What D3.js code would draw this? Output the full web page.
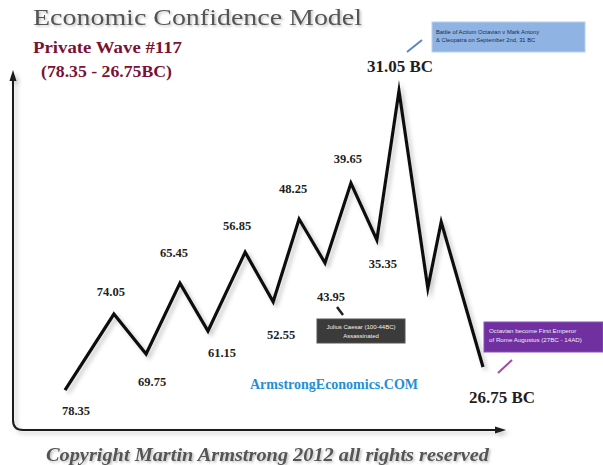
<!DOCTYPE html>
<html><head><meta charset="utf-8">
<script src="https://cdn.jsdelivr.net/npm/d3@7"></script>
<style>html,body{margin:0;padding:0;background:#fff;}svg{display:block;}</style>
</head><body>
<svg id="chart" width="603" height="465"></svg>
<script>
// ---- data ----
const timePos = [0, 11.7, 19.4, 27.5, 34.2, 43.1, 49.8, 56.0, 62.2, 68.4, 74.6, 79.9, 86.8, 90.0, 100];
const confidence = [11.1, 32.2, 21.1, 40.8, 27.5, 49.4, 35.6, 58.6, 46.4, 68.6, 52.8, 94.2, 39.4, 57.8, 17.5];
const pointLabels = ["78.35","74.05","69.75","65.45","61.15","56.85","52.55","48.25","43.95","39.65","35.35","31.05 BC","","","26.75 BC"];
const titleText = "Economic Confidence Model";
const subTitle1 = "Private Wave #117";
const subTitle2 = "(78.35 - 26.75BC)";
const siteText = "ArmstrongEconomics.COM";
const copyrightText = "Copyright Martin Armstrong 2012 all rights reserved";
const noteBattle = ["Battle of Actium Octavian v Mark Antony", "& Cleopatra on September 2nd, 31 BC"];
const noteCaesar = ["Julius Caesar (100-44BC)", "Assassinated"];
const noteOctavian = ["Octavian become First Emperor", "of Rome Augustus (27BC - 14AD)"];

// ---- layout ----
const labelOffsets = [[11,21],[-3,-22],[6,28],[-6,-30],[14,22],[-8,-26],[8,33],[-6,-30],[6,34],[-3,-24],[6,24],[1,-24],[0,0],[0,0],[19,30]];

const svg = d3.select("#chart");
const x = d3.scaleLinear().domain([0, 100]).range([65, 483]);
const y = d3.scaleLinear().domain([0, 100]).range([430, 70]);

const defs = svg.append("defs");
const sh = defs.append("filter").attr("id","sh").attr("x","-10%").attr("y","-10%").attr("width","130%").attr("height","130%");
sh.append("feDropShadow").attr("dx",3).attr("dy",3).attr("stdDeviation",2.2).attr("flood-color","#000").attr("flood-opacity",0.22);
const tsh = defs.append("filter").attr("id","tsh");
tsh.append("feDropShadow").attr("dx",1.5).attr("dy",1.5).attr("stdDeviation",1).attr("flood-color","#000").attr("flood-opacity",0.25);

// axes frame (drawn from scale extents)
const x0 = 13, yTop = 70, yBase = y(0), xEnd = 506, r = 10;
const axisG = svg.append("g").attr("filter","url(#sh)");
axisG.append("path")
  .attr("d", `M${x0},${yTop+8} L${x0},${yBase-r} Q${x0},${yBase} ${x0+r},${yBase} L${xEnd-8},${yBase}`)
  .attr("fill","none").attr("stroke","#1a1a1a").attr("stroke-width",2);
axisG.append("path").attr("d",`M${x0},${yTop} L${x0-3.5},${yTop+11} L${x0+3.5},${yTop+11} Z`).attr("fill","#1a1a1a");
axisG.append("path").attr("d",`M${xEnd},${yBase} L${xEnd-11},${yBase-3.5} L${xEnd-11},${yBase+3.5} Z`).attr("fill","#1a1a1a");

// the wave
const pts = timePos.map((t,i)=>({t, v: confidence[i], label: pointLabels[i], off: labelOffsets[i]}));
const line = d3.line().x(d=>x(d.t)).y(d=>y(d.v));
svg.append("path").datum(pts).attr("d", line)
  .attr("fill","none").attr("stroke","#111").attr("stroke-width",3.2)
  .attr("stroke-linejoin","miter").attr("stroke-miterlimit",10).attr("filter","url(#sh)");

// point labels
svg.append("g").selectAll("text").data(pts.filter(d=>d.label)).join("text")
  .attr("x", d=>x(d.t)+d.off[0]).attr("y", d=>y(d.v)+d.off[1])
  .attr("text-anchor","middle").attr("dominant-baseline","central")
  .attr("font-family","Liberation Serif, DejaVu Serif, serif")
  .attr("font-weight","bold")
  .attr("font-size", d=>d.label.includes("BC") ? 17 : 12.5)
  .attr("fill","#1e1e1e")
  .text(d=>d.label);

// titles
svg.append("text").attr("x",33).attr("y",25).attr("font-family","Liberation Serif, serif")
  .attr("font-size",24).attr("fill","#555").attr("textLength",329).attr("lengthAdjust","spacingAndGlyphs")
  .attr("filter","url(#tsh)").text(titleText);
svg.append("text").attr("x",33).attr("y",53).attr("font-family","Liberation Serif, serif")
  .attr("font-size",16).attr("font-weight","bold").attr("fill","#7a1233").attr("textLength",149).attr("lengthAdjust","spacingAndGlyphs")
  .text(subTitle1);
svg.append("text").attr("x",41).attr("y",77).attr("font-family","Liberation Serif, serif")
  .attr("font-size",16).attr("font-weight","bold").attr("fill","#7a1233").attr("textLength",131).attr("lengthAdjust","spacingAndGlyphs")
  .text(subTitle2);

// site text
svg.append("text").attr("x",250).attr("y",389).attr("font-family","Liberation Serif, serif")
  .attr("font-size",14).attr("font-weight","bold").attr("fill","#1f8fd6").attr("textLength",168).attr("lengthAdjust","spacingAndGlyphs")
  .text(siteText);

// copyright
svg.append("text").attr("x",46).attr("y",461).attr("font-family","Liberation Serif, serif")
  .attr("font-size",18).attr("font-weight","bold").attr("font-style","italic").attr("fill","#555")
  .attr("textLength",443).attr("lengthAdjust","spacingAndGlyphs").attr("filter","url(#tsh)")
  .text(copyrightText);

// annotation boxes
function note(bx, by, bw, bh, fill, stroke, color, lines, anchor, tx, ty0, dy, fs){
  const g = svg.append("g");
  g.append("rect").attr("x",bx).attr("y",by).attr("width",bw).attr("height",bh).attr("fill",fill)
    .attr("stroke",stroke).attr("stroke-width",1);
  g.selectAll("text").data(lines).join("text")
    .attr("x",tx).attr("y",(d,i)=>ty0+i*dy).attr("text-anchor",anchor)
    .attr("font-family","Liberation Sans, Arial, sans-serif").attr("font-size",fs).attr("fill",color)
    .text(d=>d);
}
note(432,22,153,30,"#8fb4e3","#b9d0ee","#1a2a4a",noteBattle,"start",436,34,8,5.8);
note(317,319,88,24,"#3b3b3b","#555","#f2f2f2",noteCaesar,"middle",361,329,9,6);
note(484,322,119,30,"#7030a0","#8a50b8","#f3eafa",noteOctavian,"start",489,333,9,6.2);

// pointer ticks
svg.append("line").attr("x1",407).attr("y1",52).attr("x2",422).attr("y2",40).attr("stroke","#5b86c0").attr("stroke-width",2);
svg.append("line").attr("x1",337).attr("y1",307).attr("x2",343).attr("y2",315).attr("stroke","#222").attr("stroke-width",2.5);
svg.append("line").attr("x1",498).attr("y1",373).attr("x2",512).attr("y2",360).attr("stroke","#a14aa8").attr("stroke-width",2);
</script>
</body></html>
